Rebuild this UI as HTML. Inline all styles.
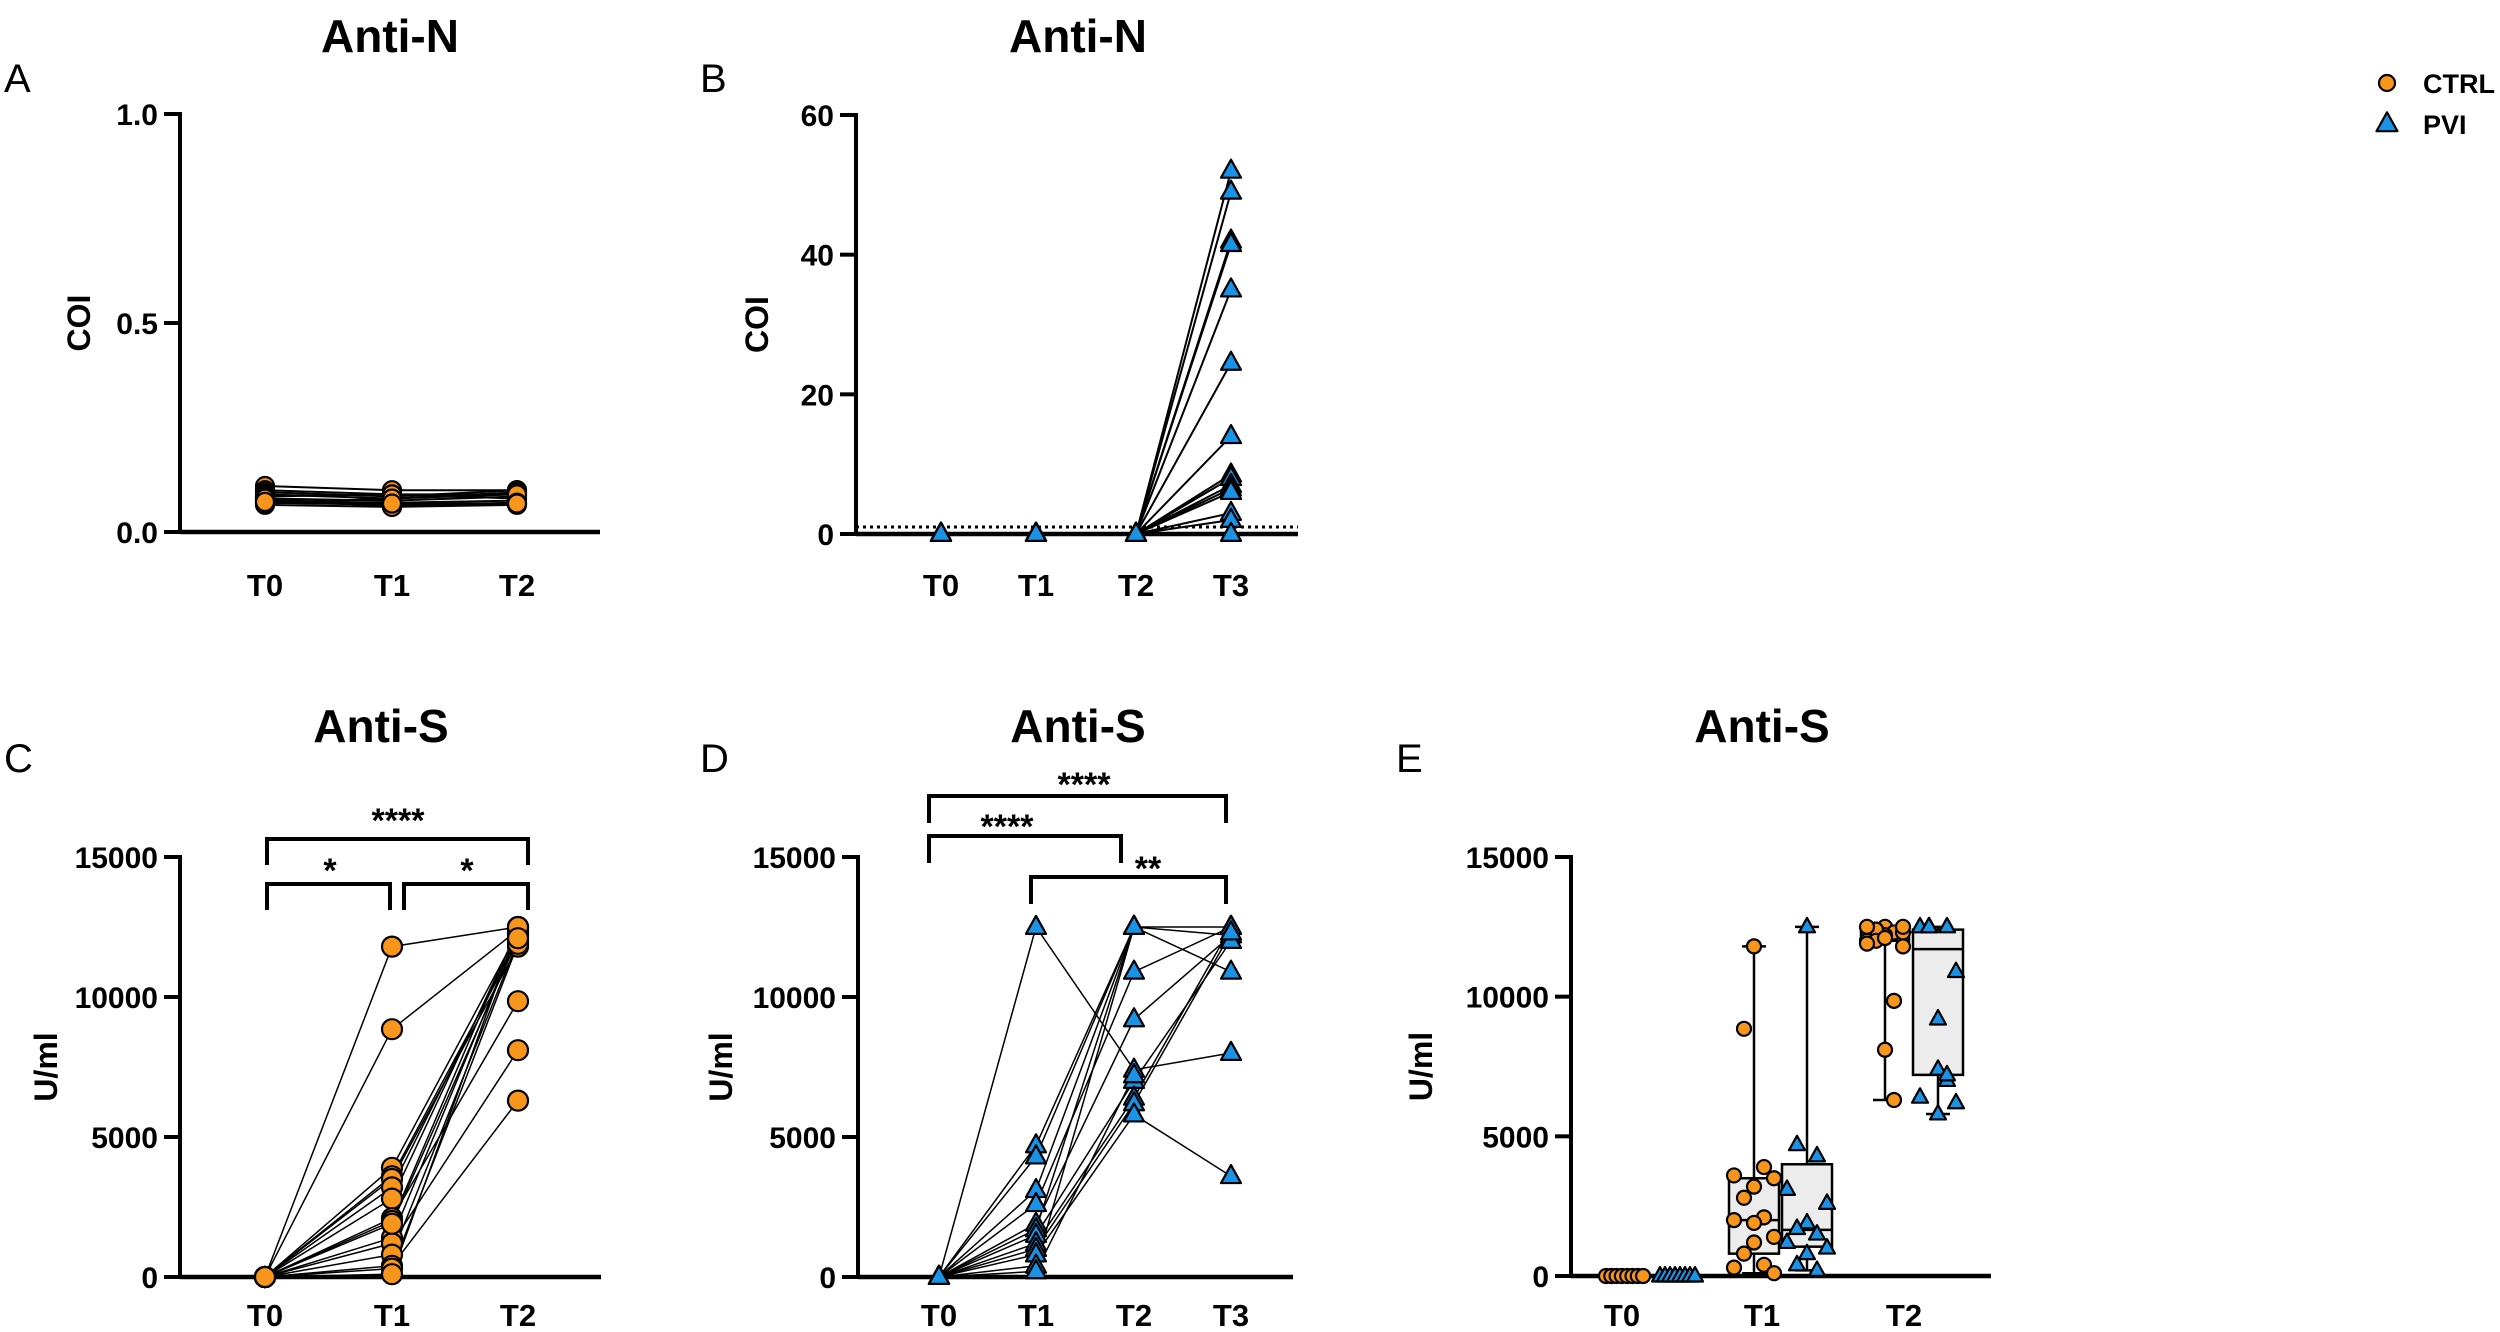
<!DOCTYPE html>
<html><head><meta charset="utf-8">
<style>
html,body{margin:0;padding:0;background:#fff;}
svg{display:block;font-family:"Liberation Sans",Arial,sans-serif;}
.tick{font-weight:bold;font-size:30px;}
.cat{font-weight:bold;font-size:31px;}
.title{font-weight:bold;font-size:46px;}
.ylab{font-weight:bold;font-size:32px;}
.letter{font-size:40px;}
.star{font-weight:bold;font-size:34px;}
</style></head>
<body>
<svg id="fig" width="2500" height="1332" viewBox="0 0 2500 1332" xmlns="http://www.w3.org/2000/svg">
<g id="root"></g>
</svg>
<script>
// ---------- DATA ----------
const catsABC = ["T0","T1","T2"];
const catsBD = ["T0","T1","T2","T3"];
// Panel A (CTRL, COI)
const aT0 = [0.11,0.10,0.095,0.09,0.085,0.08,0.075,0.07,0.065,0.07,0.08,0.072];
const aT1 = [0.10,0.09,0.085,0.08,0.09,0.075,0.07,0.065,0.06,0.08,0.06,0.068];
const aT2 = [0.10,0.09,0.10,0.095,0.08,0.085,0.075,0.07,0.065,0.09,0.07,0.068];
const aTicks = [0,0.5,1.0];
const aTickLabels = ["0.0","0.5","1.0"];
// Panel B (PVI, COI)
const bT0 = [0,0,0,0,0,0,0,0,0,0,0,0,0,0,0];
const bT1 = [0,0,0,0,0,0,0,0,0,0,0,0,0,0,0];
const bT2 = [0,0,0,0,0,0,0,0,0,0,0,0,0,0,0];
const bT3 = [52,49,42,41.5,35,24.5,14,8.5,8,7,6.5,6,3,2,0];
const bTicks = [0,20,40,60];
const bCutoff = 1;
// Panel C (CTRL, U/ml)
const cT0 = [0,0,0,0,0,0,0,0,0,0,0,0,0,0,0,0];
const cT1 = [11800,8850,3900,3600,3500,3200,2800,2100,2000,1400,1200,800,400,300,100,1900];
const cT2 = [12500,12400,12300,12000,11800,12200,12400,9850,12500,12300,8100,12000,6300,11900,12500,12100];
const sTicks = [0,5000,10000,15000];
// Panel D (PVI, U/ml)
const dT0 = [0,0,0,0,0,0,0,0,0,0,0,0,0];
const dT1 = [12500,4700,4300,3100,2600,1900,1700,1500,1200,1000,800,400,200];
const dT2 = [7400,12500,12500,12500,10900,9200,12500,7000,6400,6200,5800,12500,7200];
const dT3 = [8000,10900,12200,12500,12500,12200,null,12000,12500,12300,3600,null,null];
// Panel E boxes: [min,q1,median,q3,max]
const eCtrlT1Box = [100,800,2000,3500,11800];
const ePviT1Box = [200,1050,1650,4000,12500];
const eCtrlT2Box = [6300,12000,12200,12500,12500];
const ePviT2Box = [5800,7200,11700,12400,12500];
const eCtrlT0 = [0,0,0,0,0,0,0,0];
const ePviT0 = [0,0,0,0,0,0,0,0];

// ---------- DRAW ----------
const NS="http://www.w3.org/2000/svg";
const root=document.getElementById('root');
const ORANGE="#f7951d", BLUE="#1a92e6";
function mk(tag,attrs,parent){const e=document.createElementNS(NS,tag);for(const k in attrs)e.setAttribute(k,attrs[k]);(parent||root).appendChild(e);return e;}
function txt(s,x,y,cls,anchor,parent){const t=mk('text',{x:x,y:y,class:cls,'text-anchor':anchor||'middle'},parent);t.textContent=s;return t;}

function circle(x,y,r,g){const c=mk('circle',{cx:x,cy:y,r:r,fill:ORANGE,stroke:'#000','stroke-width':2.2},g);

return c;}
function tri(x,y,s,g){const h=s*0.9;const p=mk('polygon',{points:`${x},${y-h*0.62} ${x-s/2},${y+h*0.38} ${x+s/2},${y+h*0.38}`,fill:BLUE,stroke:'#000','stroke-width':2.2,'stroke-linejoin':'round'},g);

return p;}

function axes(o){
 const g=mk('g',{});
 
 
 const y=v=>o.y0-(v-o.vmin)/(o.vmax-o.vmin)*(o.y0-o.y1);
 const t=txt(o.title,o.titleX,o.titleY,'title','middle',g);
 
 const L=txt(o.letter,o.letterX,o.letterY,'letter','start',g);
 
 const yl=mk('text',{x:0,y:0,class:'ylab','text-anchor':'middle',transform:`translate(${o.ylabX},${(o.y0+o.y1)/2}) rotate(-90)`},g);
 yl.textContent=o.ylab;
 
 mk('line',{x1:o.ax,y1:y(o.vmax)-2,x2:o.ax,y2:o.y0,stroke:'#000','stroke-width':4},g);
 mk('line',{x1:o.ax,y1:o.y0,x2:o.xend,y2:o.y0,stroke:'#000','stroke-width':4.5},g);
 o.ticks.forEach((v,i)=>{
  mk('line',{x1:o.ax-16,y1:y(v),x2:o.ax,y2:y(v),stroke:'#000','stroke-width':4},g);
  const tl=txt(o.tickLabels?o.tickLabels[i]:String(v),o.ax-22,y(v)+11,'tick','end',g);
  
 });
 o.cats.forEach((c,i)=>{const cl=txt(c,o.catX[i],o.labY,'cat','middle',g);
  });
 return {g,y};
}
function bracket(g,x1,x2,ytop,legBot1,legBot2,label,lx,ly){
 const p=mk('path',{d:`M${x1},${legBot1} L${x1},${ytop} L${x2},${ytop} L${x2},${legBot2}`,fill:'none',stroke:'#000','stroke-width':4},g);
 
 const t=txt(label,lx,ly,'star','middle',g);
 
}
function pairedLines(g,xs,series,y,w){
 const n=series[0].length;
 for(let i=0;i<n;i++){let pts=[];series.forEach((s,j)=>{if(s[i]!==null&&s[i]!==undefined)pts.push(xs[j]+','+y(s[i]));});
  const l=mk('polyline',{points:pts.join(' '),fill:'none',stroke:'#000','stroke-width':w},g);
  }
}

// Panel A
(function(){
 const cx=[265,392,517];
 const P=axes({name:'panel-a',title:'Anti-N',titleX:390,titleY:52,letter:'A',letterX:4,letterY:92,ylab:'COI',ylabX:90,ax:180,xend:600,y0:532,y1:114,vmin:0,vmax:1,ticks:aTicks,tickLabels:aTickLabels,cats:catsABC,catX:cx,labY:596});
 const S=[aT0,aT1,aT2];
 pairedLines(P.g,cx,S,P.y,2);
 S.forEach((s,j)=>s.forEach(v=>circle(cx[j],P.y(v),9,P.g)));
})();
// Panel B
(function(){
 const cx=[941,1036,1136,1231];
 const P=axes({name:'panel-b',title:'Anti-N',titleX:1078,titleY:52,letter:'B',letterX:700,letterY:92,ylab:'COI',ylabX:768,ax:856,xend:1298,y0:534,y1:115,vmin:0,vmax:60,ticks:bTicks,cats:catsBD,catX:cx,labY:596});
 const d=mk('line',{x1:856,y1:P.y(bCutoff),x2:1298,y2:P.y(bCutoff),stroke:'#000','stroke-width':3,'stroke-dasharray':'3,4'},P.g);
 
 const S=[bT0,bT1,bT2,bT3];
 pairedLines(P.g,cx,S,P.y,2);
 S.forEach((s,j)=>s.forEach(v=>tri(cx[j],P.y(v),20,P.g)));
})();
// Panel C
(function(){
 const cx=[265,392,518];
 const P=axes({name:'panel-c',title:'Anti-S',titleX:381,titleY:742,letter:'C',letterX:4,letterY:772,ylab:'U/ml',ylabX:57,ax:180,xend:601,y0:1277,y1:857,vmin:0,vmax:15000,ticks:sTicks,cats:catsABC,catX:cx,labY:1326});
 const S=[cT0,cT1,cT2];
 pairedLines(P.g,cx,S,P.y,1.5);
 S.forEach((s,j)=>s.forEach(v=>circle(cx[j],P.y(v),10,P.g)));
 bracket(P.g,267,528,839,865,865,'****',398,832);
 bracket(P.g,267,390,884,910,910,'*',330,882);
 bracket(P.g,404,528,884,910,910,'*',467,882);
})();
// Panel D
(function(){
 const cx=[939,1036,1134,1231];
 const P=axes({name:'panel-d',title:'Anti-S',titleX:1078,titleY:742,letter:'D',letterX:700,letterY:772,ylab:'U/ml',ylabX:732,ax:858,xend:1293,y0:1277,y1:857,vmin:0,vmax:15000,ticks:sTicks,cats:catsBD,catX:cx,labY:1326});
 const S=[dT0,dT1,dT2,dT3];
 pairedLines(P.g,cx,S,P.y,1.5);
 S.forEach((s,j)=>s.forEach(v=>{if(v!==null)tri(cx[j],P.y(v),20,P.g);}));
 bracket(P.g,929,1226,796,823,823,'****',1084,796);
 bracket(P.g,929,1121,836,863,863,'****',1007,838);
 bracket(P.g,1031,1226,877,904,904,'**',1148,880);
})();
// Panel E
(function(){
 const P=axes({name:'panel-e',title:'Anti-S',titleX:1762,titleY:742,letter:'E',letterX:1396,letterY:772,ylab:'U/ml',ylabX:1432,ax:1571,xend:1991,y0:1276,y1:857,vmin:0,vmax:15000,ticks:sTicks,cats:catsABC,catX:[1622,1762,1904],labY:1326});
 const y=P.y;
 function box(b,cx,w,nm){
  const g=mk('g',{},P.g);
  
  mk('line',{x1:cx,y1:y(b[0]),x2:cx,y2:y(b[4]),stroke:'#000','stroke-width':2.5},g);
  mk('line',{x1:cx-12,y1:y(b[0]),x2:cx+12,y2:y(b[0]),stroke:'#000','stroke-width':2.5},g);
  mk('line',{x1:cx-12,y1:y(b[4]),x2:cx+12,y2:y(b[4]),stroke:'#000','stroke-width':2.5},g);
  mk('rect',{x:cx-w/2,y:y(b[3]),width:w,height:y(b[1])-y(b[3]),fill:'#ececec',stroke:'#000','stroke-width':2.5},g);
  mk('line',{x1:cx-w/2,y1:y(b[2]),x2:cx+w/2,y2:y(b[2]),stroke:'#000','stroke-width':2.5},g);
 }
 box(eCtrlT1Box,1754,50,'ctrl-t1-box');
 box(ePviT1Box,1807,50,'pvi-t1-box');
 box(eCtrlT2Box,1885,48,'ctrl-t2-box');
 box(ePviT2Box,1938,50,'pvi-t2-box');
 const off=[0,-1,1,-2,2];
 eCtrlT0.forEach((v,i)=>circle(1606+i*5.3,y(v),7,P.g));
 ePviT0.forEach((v,i)=>tri(1660+i*5,y(v),16,P.g));
 cT1.forEach((v,i)=>circle(1754+off[i%5]*10,y(v),7,P.g));
 dT1.forEach((v,i)=>tri(1807+off[i%5]*10,y(v),16,P.g));
 cT2.forEach((v,i)=>circle(1885+off[i%5]*9,y(v),7,P.g));
 dT2.forEach((v,i)=>tri(1938+off[i%5]*9,y(v),16,P.g));
})();
// Legend
(function(){
 const g=mk('g',{});
 
 const e1=mk('g',{},g);
 circle(2387,83,8,e1);txt('CTRL',2423,93,'ylab','start',e1).setAttribute('style','font-size:27px');
 const e2=mk('g',{},g);
 tri(2387,124,21,e2);txt('PVI',2423,134,'ylab','start',e2).setAttribute('style','font-size:27px');
})();
</script>
</body></html>
